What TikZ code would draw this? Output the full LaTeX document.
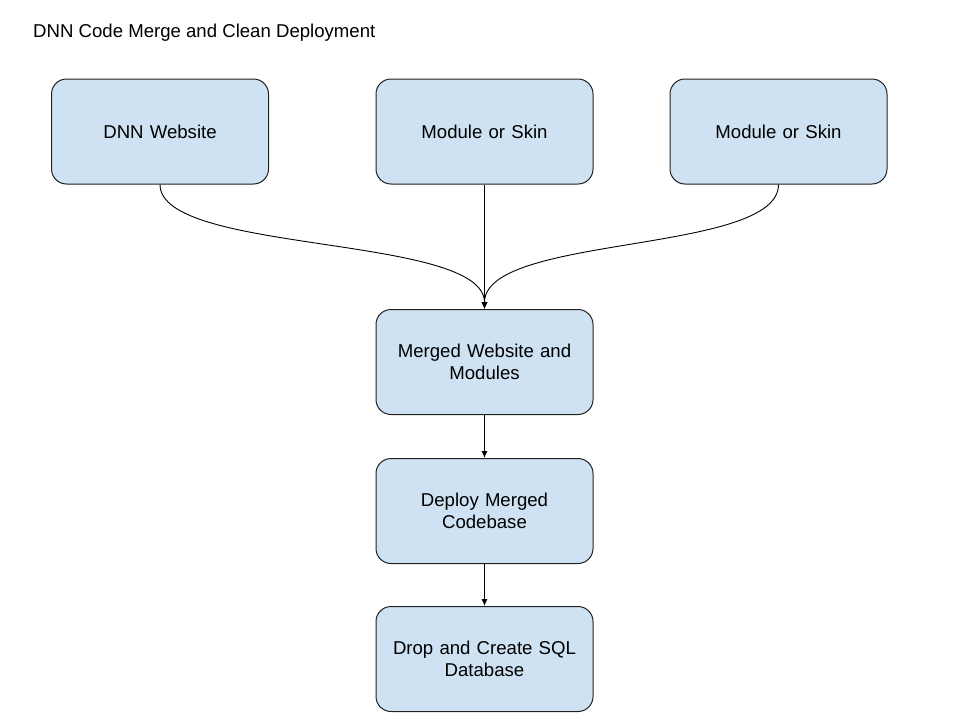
\documentclass[tikz,border=0pt]{standalone}
\usepackage{fontspec}
\setmainfont{Liberation Sans}
\usetikzlibrary{arrows.meta,calc}
\definecolor{boxfill}{HTML}{CFE2F3}
\definecolor{boxline}{HTML}{222222}
\begin{document}
\begin{tikzpicture}[x=1pt,y=-1pt,
  procbox/.style={draw=boxline, fill=boxfill, line width=1pt, rounded corners=15pt,
    minimum width=217pt, minimum height=105pt, align=center, inner sep=0pt,
    font=\fontsize{18.6}{22}\selectfont, text width=205pt},
  conn/.style={line width=0.9pt, -{Latex[length=7pt,width=6pt]}}]
\useasboundingbox (0,0) rectangle (960,720);
\node[anchor=west, inner sep=0pt, font=\fontsize{18.6}{22}\selectfont] (title) at (33,33) {DNN Code Merge and Clean Deployment};
\node[procbox] (dnn) at (160,131.5) {DNN Website};
\node[procbox] (mod1) at (484.5,131.5) {Module or Skin};
\node[procbox] (mod2) at (778.5,131.5) {Module or Skin};
\node[procbox] (merged) at (484.5,362) {Merged Website and\\Modules};
\node[procbox] (deploy) at (484.5,511) {Deploy Merged\\Codebase};
\node[procbox] (drop) at (484.5,659) {Drop and Create SQL\\Database};
\draw[conn] (dnn.south) .. controls ($(dnn.south)+(0,70)$) and ($(merged.north)+(0,-75)$) .. (merged.north);
\draw[conn] (mod2.south) .. controls ($(mod2.south)+(0,70)$) and ($(merged.north)+(0,-75)$) .. (merged.north);
\draw[conn] (mod1.south) -- (merged.north);
\draw[conn] (merged.south) -- (deploy.north);
\draw[conn] (deploy.south) -- (drop.north);
\end{tikzpicture}
\end{document}
